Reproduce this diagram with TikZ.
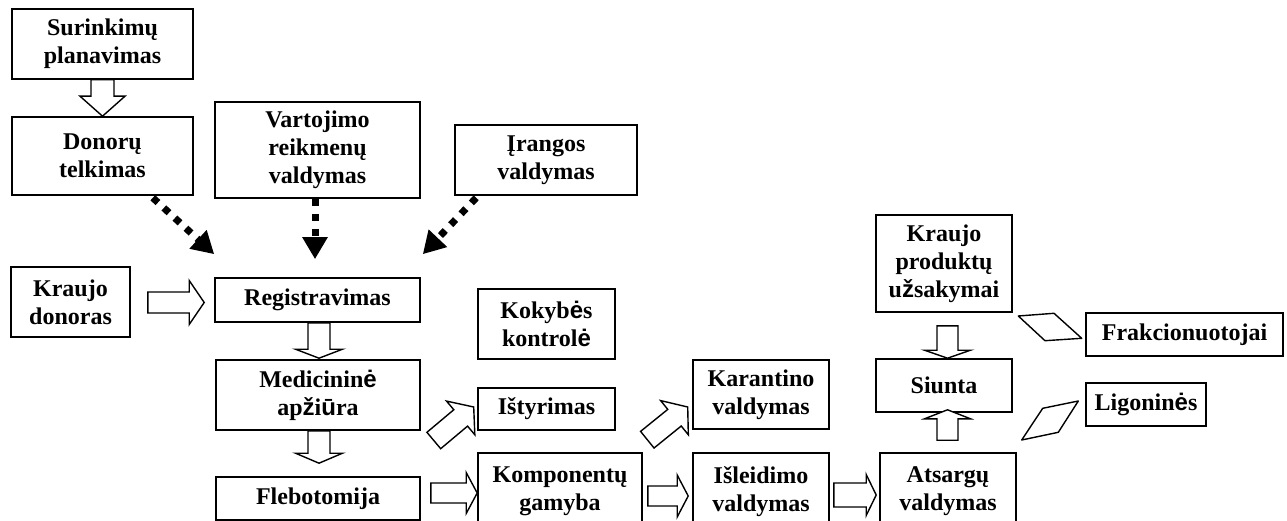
\documentclass[tikz,border=0pt]{standalone}
\usepackage{fontspec}
\setmainfont{Liberation Serif}
\newfontfamily\altfont{Liberation Sans}
\usetikzlibrary{calc,arrows.meta}

% letters set in the sans face
\newcommand\altch[1]{{\altfont #1}}

% hollow block arrow: start, end, shaft half width, head half width, head length
\newcommand\blockarrow[5]{%
  \draw[blockarr]
    ($(#1)!#3pt!90:(#2)$)
    -- ($(#2)!#5pt!(#1)!#3pt!90:(#2)$)
    -- ($(#2)!#5pt!(#1)!#4pt!90:(#2)$)
    -- (#2)
    -- ($(#2)!#5pt!(#1)!#4pt!-90:(#2)$)
    -- ($(#2)!#5pt!(#1)!#3pt!-90:(#2)$)
    -- ($(#1)!#3pt!-90:(#2)$)
    -- cycle;}

\tikzset{
  box/.style={draw, line width=1.6pt, rectangle, inner sep=0pt, align=center,
              font=\fontsize{24}{28}\selectfont\bfseries},
  blockarr/.style={draw, line width=1.4pt, fill=white, line join=miter},
  dotarrow/.style={line width=7pt, dash pattern=on 7pt off 8pt,
                   -{Triangle[length=22pt,width=24pt]}},
  rhomb/.style={draw, line width=1.4pt, line join=round}
}

\begin{document}
\begin{tikzpicture}[x=1pt,y=-1pt]
\useasboundingbox (0,0) rectangle (1287,521);

% process boxes
\node[box, minimum width=181pt, minimum height=70pt] (sur) at (102.5,44) {Surinkimų\\planavimas};
\node[box, minimum width=181pt, minimum height=78pt] (don) at (102.5,156) {Donorų\\telkimas};
\node[box, minimum width=205pt, minimum height=96pt] (var) at (317.5,150) {Vartojimo\\reikmenų\\valdymas};
\node[box, minimum width=182pt, minimum height=70pt] (ira) at (546,160) {Įrangos\\valdymas};
\node[box, minimum width=119pt, minimum height=70pt] (kd) at (70.5,302) {Kraujo\\donoras};
\node[box, minimum width=205pt, minimum height=44pt] (reg) at (317.5,300) {Registravimas};
\node[box, minimum width=137pt, minimum height=70pt] (kok) at (546.5,324) {Kokyb\altch{ė}s\\kontrol\altch{ė}};
\node[box, minimum width=204pt, minimum height=70pt] (med) at (318,395) {Medicinin\altch{ė}\\ap\altch{ž}i\altch{ū}ra};
\node[box, minimum width=137pt, minimum height=42pt] (ist) at (546.5,409) {Ištyrimas};
\node[box, minimum width=204pt, minimum height=43pt] (fle) at (318,498.5) {Flebotomija};
\node[box, minimum width=164pt, minimum height=77pt] (kom) at (560,491.5) {Komponentų\\gamyba};
\node[box, minimum width=136pt, minimum height=69pt] (kar) at (761,394.5) {Karantino\\valdymas};
\node[box, minimum width=136pt, minimum height=77pt] (isl) at (761,491.5) {Išleidimo\\valdymas};
\node[box, minimum width=136pt, minimum height=77pt] (ats) at (948,491.5) {Atsargų\\valdymas};
\node[box, minimum width=136pt, minimum height=97pt] (uzs) at (944,263.5) {Kraujo\\produktų\\u\altch{ž}sakymai};
\node[box, minimum width=136pt, minimum height=53pt] (siu) at (944,385.5) {Siunta};
\node[box, minimum width=197pt, minimum height=43pt] (fra) at (1184.5,334.5) {Frakcionuotojai};
\node[box, minimum width=120pt, minimum height=43pt] (lig) at (1146,404.5) {Ligonin\altch{ė}s};

% dotted supply arrows into registration
\coordinate (d1s) at ($(don.south east)+(-41,2)$);
\coordinate (d1e) at ($(reg.north west)+(0,-23)$);
\coordinate (d2s) at ($(var.south)+(-2.5,0)$);
\coordinate (d2e) at ($(reg.north)+(-2.5,-18)$);
\coordinate (d3s) at ($(ira.south west)+(22,2)$);
\coordinate (d3e) at ($(reg.north east)+(2,-23)$);
\draw[dotarrow] (d1s) -- (d1e);
\draw[dotarrow] (d2s) -- (d2e);
\draw[dotarrow] (d3s) -- (d3e);

% hollow flow arrows
\coordinate (a1s) at (sur.south);
\coordinate (a1e) at (don.north);
\blockarrow{a1s}{a1e}{11.5}{22.5}{20}

\coordinate (a2s) at ($(kd.east)+(17,0.5)$);
\coordinate (a2e) at ($(a2s -| reg.west)+(-10,0)$);
\blockarrow{a2s}{a2e}{10.5}{22}{15}

\coordinate (a3s) at ($(reg.south)+(1.5,0)$);
\coordinate (a3e) at ($(a3s |- med.north)+(0,-1)$);
\blockarrow{a3s}{a3e}{11}{23.5}{9}

\coordinate (a4s) at ($(med.south)+(1,0)$);
\coordinate (a4e) at ($(a4s |- fle.north)+(0,-13)$);
\blockarrow{a4s}{a4e}{11}{23.5}{10}

\coordinate (a5s) at ($(fle.east)+(10,-5.5)$);
\coordinate (a5e) at (a5s -| kom.west);
\blockarrow{a5s}{a5e}{10}{20.5}{11}

\coordinate (a6s) at ($(kom.east)+(5,4.5)$);
\coordinate (a6e) at ($(a6s -| isl.west)+(-4,0)$);
\blockarrow{a6s}{a6e}{10}{21}{11}

\coordinate (a7s) at ($(isl.east)+(4,3.5)$);
\coordinate (a7e) at ($(a7s -| ats.west)+(-3,0)$);
\blockarrow{a7s}{a7e}{12}{20.5}{10}

\coordinate (a8s) at ($(ats.north)+(-0.5,-12)$);
\coordinate (a8e) at ($(a8s |- siu.south)+(0,-3)$);
\blockarrow{a8s}{a8e}{10.5}{23}{9}

\coordinate (a9s) at ($(uzs.south)+(3.5,13)$);
\coordinate (a9e) at (a9s |- siu.north);
\blockarrow{a9s}{a9e}{10.5}{23}{8}

\coordinate (a10s) at ($(med.east)+(13,45.5)$);
\coordinate (a10e) at ($(ist.west)+(-3.5,-2)$);
\blockarrow{a10s}{a10e}{10.7}{22}{17}

\coordinate (a11s) at ($(kom.north east)+(4.5,-12.5)$);
\coordinate (a11e) at ($(kar.west)+(-4.5,12.5)$);
\blockarrow{a11s}{a11e}{10.7}{22}{17}

% distribution symbols
\draw[rhomb] (1018.3,316) -- (1054,313.3) -- (1081.7,338.3) -- (1045,340.7) -- cycle;
\draw[rhomb] (1021.7,440) -- (1042.7,408.3) -- (1078.3,401) -- (1058.3,432.3) -- cycle;
\end{tikzpicture}
\end{document}
